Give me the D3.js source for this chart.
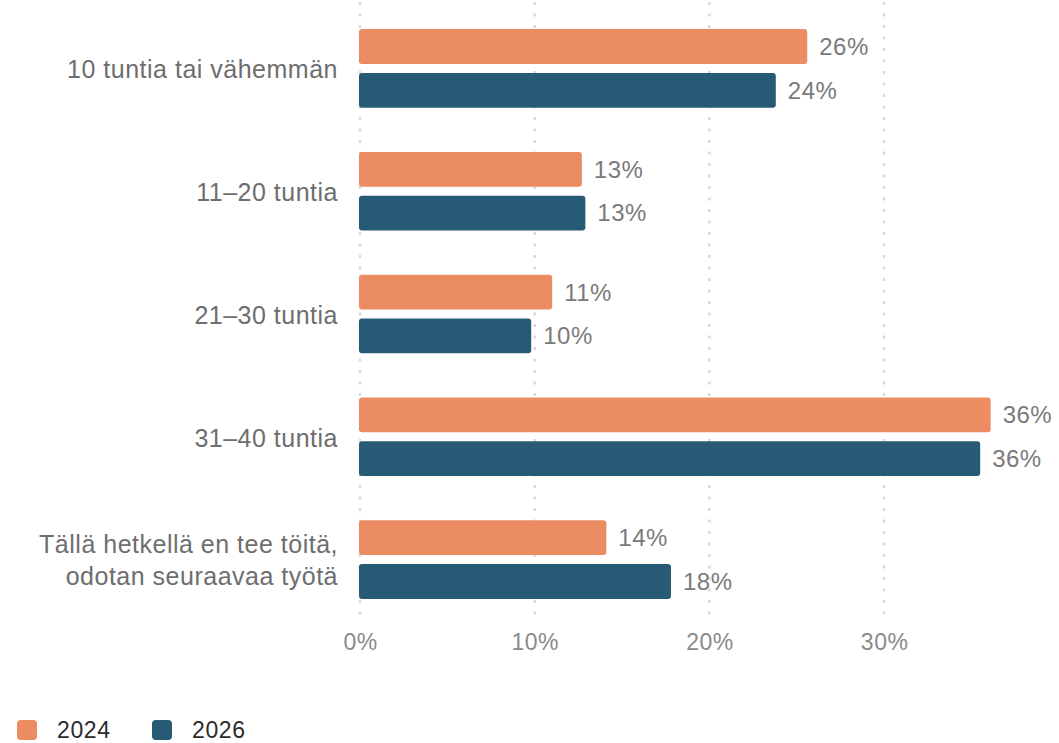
<!DOCTYPE html>
<html>
<head>
<meta charset="utf-8">
<script src="https://cdn.jsdelivr.net/npm/d3@7"></script>
<style>
  html, body { margin: 0; padding: 0; background: #fff; }
  svg { display: block; font-family: "Liberation Sans", Arial, sans-serif; }
</style>
</head>
<body>
<svg id="chart" width="1059" height="743"></svg>
<script>
// Weekly working hours, share of respondents
const categories = [
  ["10 tuntia tai vähemmän"],
  ["11–20 tuntia"],
  ["21–30 tuntia"],
  ["31–40 tuntia"],
  ["Tällä hetkellä en tee töitä,", "odotan seuraavaa työtä"]
];
const seriesNames = ["2024", "2026"];
const values2024 = [25.6, 12.7, 11.0, 36.1, 14.1];
const values2026 = [23.8, 12.9, 9.8, 35.5, 17.8];
const xTicks = [0, 10, 20, 30];
const colors = ["#EB8C63", "#275A74"];

const svg = d3.select("#chart");
const catKeys = categories.map(c => c.join(" "));
const seriesValues = [values2024, values2026];

const x = d3.scaleLinear().domain([0, 10]).range([360, 534.7]);
const y0 = d3.scaleBand().domain(catKeys).range([7, 621]).paddingInner(0.36).paddingOuter(0.18);
const y1 = d3.scaleBand().domain(seriesNames).range([0, y0.bandwidth()]).paddingInner(0.205);

// dotted vertical gridlines
svg.append("g").selectAll("line").data(xTicks).join("line")
  .attr("x1", d => x(d)).attr("x2", d => x(d))
  .attr("y1", 2).attr("y2", 622)
  .attr("stroke", "#d9d9d9").attr("stroke-width", 2.5)
  .attr("stroke-dasharray", "3,8.5");

// x axis tick labels
const xAxis = d3.axisBottom(x).tickValues(xTicks).tickFormat(d => d + "%").tickSize(0).tickPadding(0);
const gx = svg.append("g").attr("transform", "translate(0,650)").call(xAxis);
gx.select(".domain").remove();
gx.selectAll("text").attr("fill", "#8a8a8a").attr("font-size", 23).attr("dy", 0)
  .attr("letter-spacing", 0.5)
  .attr("font-family", "Liberation Sans, Arial, sans-serif");

// category labels
const gy = svg.append("g");
categories.forEach((lines, i) => {
  const cy = y0(catKeys[i]) + y0.bandwidth() / 2;
  const t = gy.append("text").attr("text-anchor", "end").attr("x", 338)
    .attr("fill", "#6e6e6e").attr("font-size", 25).attr("letter-spacing", 0.5);
  const lh = 32;
  lines.forEach((ln, j) => {
    t.append("tspan").attr("x", 338)
      .attr("y", cy + 1 + (j - (lines.length - 1) / 2) * lh)
      .attr("dy", "0.35em").text(ln);
  });
});

// bars and value labels
const fmt = v => Math.round(v) + "%";
seriesNames.forEach((s, si) => {
  const g = svg.append("g");
  g.selectAll("rect").data(seriesValues[si]).join("rect")
    .attr("x", x(0) - 1)
    .attr("y", (d, i) => y0(catKeys[i]) + y1(s))
    .attr("width", d => x(d) - x(0) + 1)
    .attr("height", y1.bandwidth())
    .attr("rx", 3)
    .attr("fill", colors[si]);
  g.selectAll("text").data(seriesValues[si]).join("text")
    .attr("x", d => x(d) + 12)
    .attr("y", (d, i) => y0(catKeys[i]) + y1(s) + y1.bandwidth() / 2)
    .attr("dy", "0.35em")
    .attr("fill", "#7a7a7a").attr("font-size", 24).attr("letter-spacing", 0.5)
    .text(fmt);
});

// legend
const legend = svg.append("g").attr("transform", "translate(17,720)");
const items = [{ name: seriesNames[0], x: 0 }, { name: seriesNames[1], x: 135 }];
items.forEach((it, i) => {
  legend.append("rect").attr("x", it.x).attr("y", 0).attr("width", 20).attr("height", 20)
    .attr("rx", 4).attr("fill", colors[i]);
  legend.append("text").attr("x", it.x + 40).attr("y", 18)
    .attr("fill", "#2b2b2b").attr("font-size", 23).attr("letter-spacing", 0.6).text(it.name);
});
</script>
</body>
</html>
